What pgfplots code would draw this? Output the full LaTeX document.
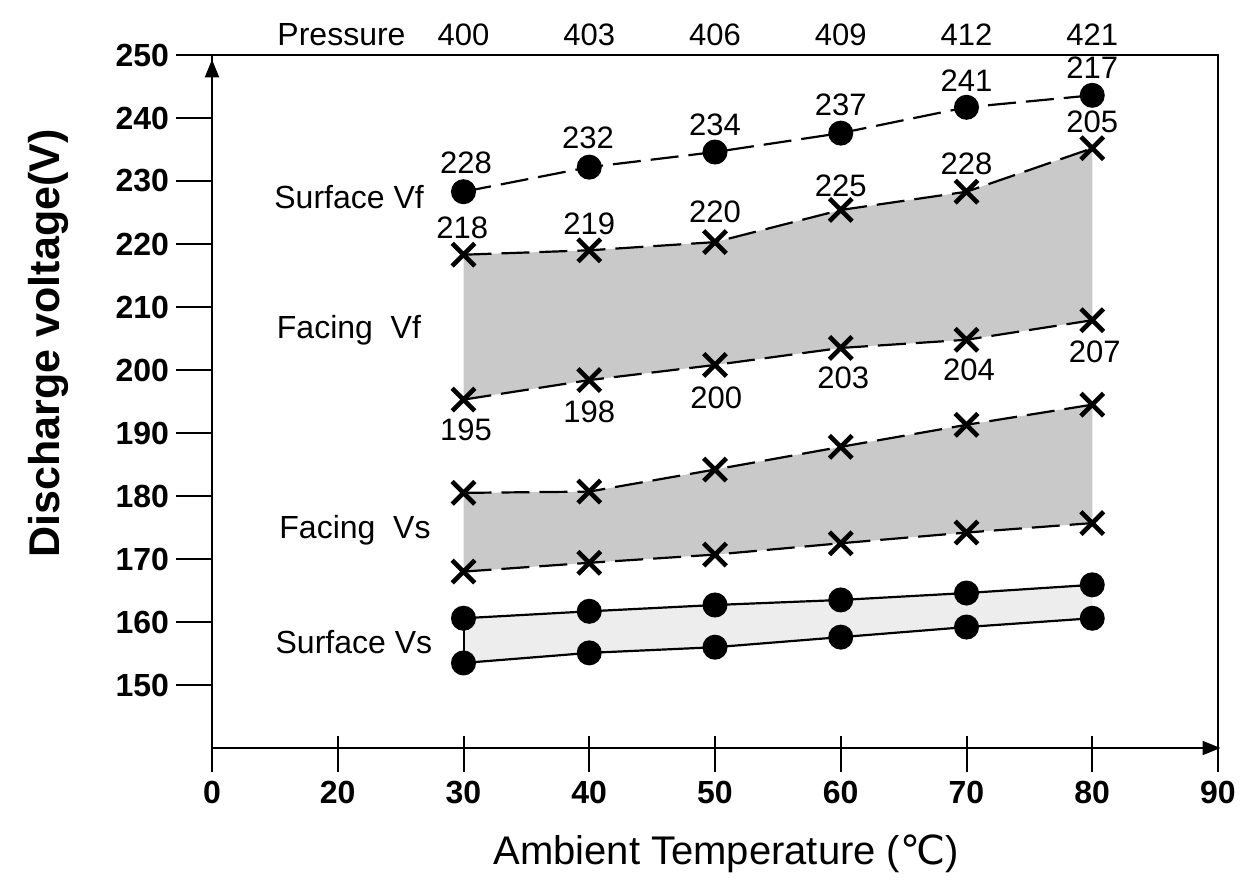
\documentclass[border=0pt]{standalone}
\usepackage{fontspec}
\setmainfont{Liberation Sans}
\newfontfamily\dejavu{DejaVu Sans}
\usepackage{pgfplots}
\pgfplotsset{compat=1.18}
\usepgfplotslibrary{fillbetween}
\usepackage{pgfplotstable}
\usetikzlibrary{arrows.meta}

\pgfplotstableread{
x fvfU fvfL fvsU fvsL svf svsU svsL
2 218.3 195.3 180.5 168.0 228.3 160.6 153.5
3 219.0 198.4 180.7 169.4 232.2 161.7 155.1
4 220.3 200.8 184.2 170.7 234.6 162.7 156.0
5 225.4 203.5 187.8 172.5 237.6 163.5 157.6
6 228.3 204.8 191.3 174.2 241.7 164.6 159.2
7 235.2 207.9 194.5 175.7 243.6 165.9 160.6
}\data

\newcommand{\lab}{\fontsize{15.5}{16}\selectfont}
\newcommand{\ser}{\fontsize{16}{17}\selectfont}

\begin{document}
\begin{tikzpicture}
\begin{axis}[
  at={(0,0)}, anchor=south west,
  width=503pt, height=346.5pt, scale only axis,
  xmin=0, xmax=8, ymin=140, ymax=250,
  xtick={0,...,8}, xticklabels={0,20,30,40,50,60,70,80,90},
  ytick={150,160,...,250},
  clip=false,
  axis line style={line width=1pt},
  tick align=outside,
  major tick length=18pt,
  tick style={black, line width=1pt},
  xtick style={yshift=6pt},
  xtick pos=bottom, ytick pos=left,
  /pgf/number format/assume math mode=true,
  ticklabel style={font=\bfseries\fontsize{16}{17}\selectfont},
  xticklabel style={yshift=5pt},
  xlabel={Ambient Temperature ({\dejavu ℃})},
  xlabel style={font=\fontsize{20}{21}\selectfont, at={(axis description cs:0.511,-0.152)}, anchor=center},
  ylabel={Discharge voltage(V)},
  ylabel style={font=\bfseries\fontsize{21.5}{22}\selectfont, at={(axis description cs:-0.163,0.584)}, anchor=center},
  every axis plot/.append style={line width=1.1pt},
  xmark/.style={mark=x, mark size=8pt, mark options={solid, line width=2.3pt}},
  dmark/.style={mark=*, mark size=5.7pt, mark options={solid}},
]
% invisible boundary paths
\addplot[draw=none, forget plot, name path=fvfU] table[x=x,y=fvfU]{\data};
\addplot[draw=none, forget plot, name path=fvfL] table[x=x,y=fvfL]{\data};
\addplot[draw=none, forget plot, name path=fvsU] table[x=x,y=fvsU]{\data};
\addplot[draw=none, forget plot, name path=fvsL] table[x=x,y=fvsL]{\data};
\addplot[draw=none, forget plot, name path=svsU] table[x=x,y=svsU]{\data};
\addplot[draw=none, forget plot, name path=svsL] table[x=x,y=svsL]{\data};
\addplot[fill=gray!42, draw=none, forget plot] fill between[of=fvfU and fvfL];
\addplot[fill=gray!42, draw=none, forget plot] fill between[of=fvsU and fvsL];
\addplot[fill=gray!14, draw=none, forget plot] fill between[of=svsU and svsL];

% visible series
\addplot[black, dash pattern=on 14pt off 5pt, dmark] table[x=x,y=svf]{\data};
\addplot[black, dash pattern=on 14pt off 5pt, xmark] table[x=x,y=fvfU]{\data};
\addplot[black, dash pattern=on 14pt off 5pt, xmark] table[x=x,y=fvfL]{\data};
\addplot[black, dash pattern=on 14pt off 5pt, xmark] table[x=x,y=fvsU]{\data};
\addplot[black, dash pattern=on 14pt off 5pt, xmark] table[x=x,y=fvsL]{\data};
\addplot[black, solid, dmark] table[x=x,y=svsU]{\data};
\addplot[black, solid, dmark] table[x=x,y=svsL]{\data};
\draw[line width=1pt] (axis cs:2,160.6) -- (axis cs:2,153.5);

% axis arrows
\draw[line width=1pt, -{Triangle[length=9pt,width=7pt]}] (axis cs:0,240) -- (axis cs:0,249.3);
\draw[line width=1pt, -{Triangle[length=9pt,width=7pt]}] (axis cs:7.5,140) -- (axis cs:8.02,140);

% pressure row
\node[font=\ser] at (axis cs:1.03,253.2) {Pressure};
\node[font=\lab] at (axis cs:2,253.2) {400};
\node[font=\lab] at (axis cs:3,253.2) {403};
\node[font=\lab] at (axis cs:4,253.2) {406};
\node[font=\lab] at (axis cs:5,253.2) {409};
\node[font=\lab] at (axis cs:6,253.2) {412};
\node[font=\lab] at (axis cs:7,253.2) {421};

% series names
\node[font=\ser, anchor=west] at (axis cs:0.44,227.5) {Surface Vf};
\node[font=\ser, anchor=west] at (axis cs:0.46,206.3) {Facing\ \ Vf};
\node[font=\ser, anchor=west] at (axis cs:0.48,174.6) {Facing\ \ Vs};
\node[font=\ser, anchor=west] at (axis cs:0.45,156.8) {Surface Vs};

% value labels
\node[font=\lab] at (axis cs:2.02,232.9) {228};
\node[font=\lab] at (axis cs:2.99,236.9) {232};
\node[font=\lab] at (axis cs:4.0,238.9) {234};
\node[font=\lab] at (axis cs:5.0,242.1) {237};
\node[font=\lab] at (axis cs:6.0,246.0) {241};
\node[font=\lab] at (axis cs:7.0,248.0) {217};
\node[font=\lab] at (axis cs:7.0,239.4) {205};
\node[font=\lab] at (axis cs:6.0,232.7) {228};
\node[font=\lab] at (axis cs:5.0,229.2) {225};
\node[font=\lab] at (axis cs:4.0,225.1) {220};
\node[font=\lab] at (axis cs:3.0,223.2) {219};
\node[font=\lab] at (axis cs:1.99,222.5) {218};
\node[font=\lab] at (axis cs:2.02,190.5) {195};
\node[font=\lab] at (axis cs:3.0,193.3) {198};
\node[font=\lab] at (axis cs:4.01,195.6) {200};
\node[font=\lab] at (axis cs:5.02,198.7) {203};
\node[font=\lab] at (axis cs:6.02,200.0) {204};
\node[font=\lab] at (axis cs:7.02,202.9) {207};
\end{axis}
\pgfresetboundingbox
\useasboundingbox (-106pt,-71.5pt) rectangle (522pt,374pt);
\end{tikzpicture}
\end{document}
